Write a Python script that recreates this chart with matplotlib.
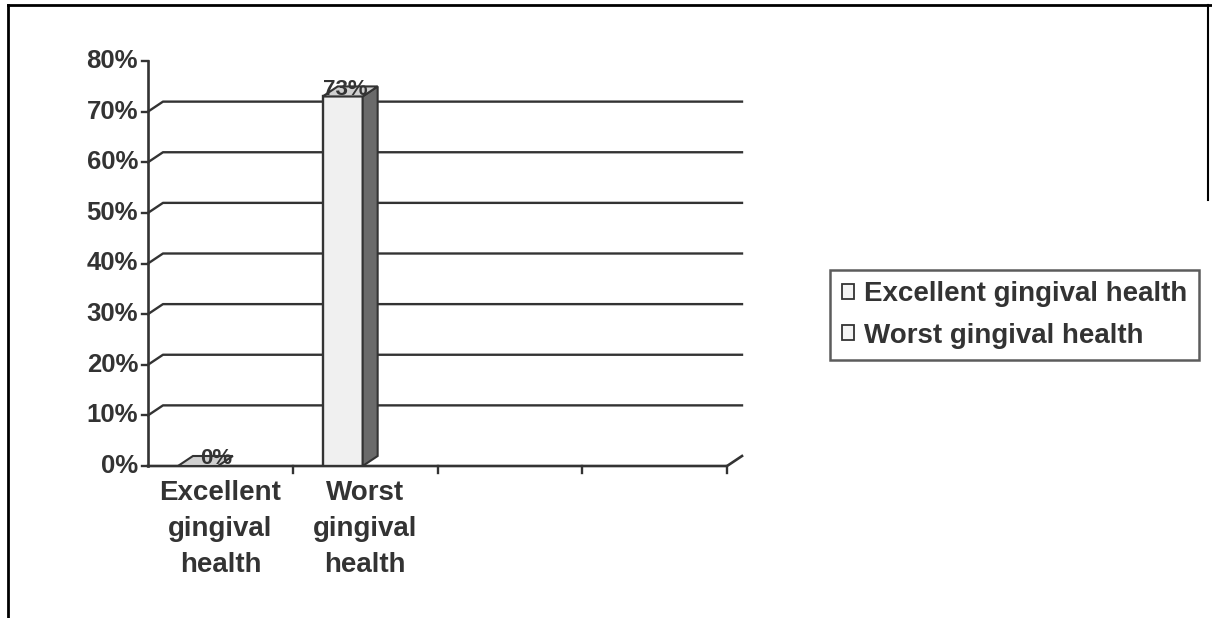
import matplotlib
matplotlib.use("Agg")
import matplotlib.pyplot as plt
from matplotlib.patches import Polygon, Rectangle, Patch

# data
categories = ["Excellent\ngingival\nhealth", "Worst\ngingival\nhealth"]
series_names = ["Excellent gingival health", "Worst gingival health"]
values = [0, 73]
yticks = [0, 10, 20, 30, 40, 50, 60, 70, 80]
n_slots = 4  # the category axis has 4 slots, only 2 used

plt.rcParams['font.family'] = ['Liberation Sans', 'DejaVu Sans']
ink = "#333333"

fig = plt.figure(figsize=(12.12, 6.18), dpi=100)
W, H = 1212, 618

# axes box in pixels: x 148..742, y 466 (0%) .. 61 (80%)
ax = fig.add_axes([148 / W, 1 - 466 / H, 594 / W, 405 / H])
px_x = 145.0          # pixels per category slot
px_y = 405.0 / 80     # pixels per percent
dx = 15 / px_x        # 3d depth offset
dy = 10 / px_y

ax.set_xlim(0, n_slots + dx)
ax.set_ylim(0, 80)
ax.axis("off")

# gridlines with 3d step from the wall
for v in yticks[1:-1]:
    ax.plot([0, dx, n_slots + dx], [v, v + dy, v + dy], color=ink, lw=1.7, clip_on=False)

# y axis and ticks
ax.plot([0, 0], [0, 80], color=ink, lw=1.9, clip_on=False)
for v in yticks:
    ax.plot([-6 / px_x, 0], [v, v], color=ink, lw=1.7, clip_on=False)
    ax.text(-10 / px_x, v, f"{v}%", ha="right", va="center", fontsize=18.5,
            fontweight="bold", color=ink)

# floor line
ax.plot([0, n_slots, n_slots + dx], [0, 0, dy], color=ink, lw=1.9, clip_on=False)
for i in range(1, n_slots + 1):
    ax.plot([i, i], [0, -7 / px_y], color=ink, lw=1.7, clip_on=False)

# bars
bar_w = 0.276
offset = -0.155
for i, v in enumerate(values):
    left = i + 0.5 + offset - bar_w / 2
    right = left + bar_w
    if v > 0:
        ax.add_patch(Rectangle((left, 0), bar_w, v, facecolor="#f0f0f0",
                               edgecolor=ink, lw=1.7, zorder=3))
        ax.add_patch(Polygon([(right, 0), (right + dx, dy), (right + dx, v + dy), (right, v)],
                             closed=True, facecolor="#6a6a6a", edgecolor=ink, lw=1.5, zorder=3))
    ax.add_patch(Polygon([(left, v), (left + dx, v + dy), (right + dx, v + dy), (right, v)],
                         closed=True, facecolor="#d0d0d0", edgecolor=ink, lw=1.5, zorder=3))
    lx = (left + right) / 2 + 0.02 + (dx if v == 0 else 0)
    ax.text(lx, v + dy * 0.7, f"{v}%", ha="center",
            va="center", fontsize=16, fontweight="bold", color=ink, zorder=4)

# category labels
for i, c in enumerate(categories):
    ax.text(i + 0.5, -14 / px_y, c, ha="center", va="top", fontsize=20,
            fontweight="bold", color=ink, linespacing=1.5)

# legend
handles = [Patch(facecolor="#f4f4f4", edgecolor=ink, lw=1.3) for _ in series_names]
leg = fig.legend(handles, series_names, loc="center left",
                 bbox_to_anchor=(830 / W, 1 - 315 / H),
                 prop={"weight": "bold", "size": 20}, frameon=True, fancybox=False,
                 handlelength=0.45, handleheight=0.45, handletextpad=0.35,
                 borderpad=0.42, labelspacing=0.55, borderaxespad=0)
leg.get_frame().set_edgecolor(ink)
leg.get_frame().set_linewidth(1.8)
for t in leg.get_texts():
    t.set_color(ink)

# outer chart border (cropped at bottom/right in the scan)
fig.add_artist(plt.Line2D([8 / W, 8 / W], [0, 1 - 5 / H], color="black", lw=2, transform=fig.transFigure))
fig.add_artist(plt.Line2D([8 / W, 1], [1 - 5 / H, 1 - 5 / H], color="black", lw=2, transform=fig.transFigure))
fig.add_artist(plt.Line2D([1 - 4 / W, 1 - 4 / W], [1 - 5 / H, 1 - 200 / H], color="black", lw=1.5, transform=fig.transFigure))

fig.savefig("out.png", dpi=100)
